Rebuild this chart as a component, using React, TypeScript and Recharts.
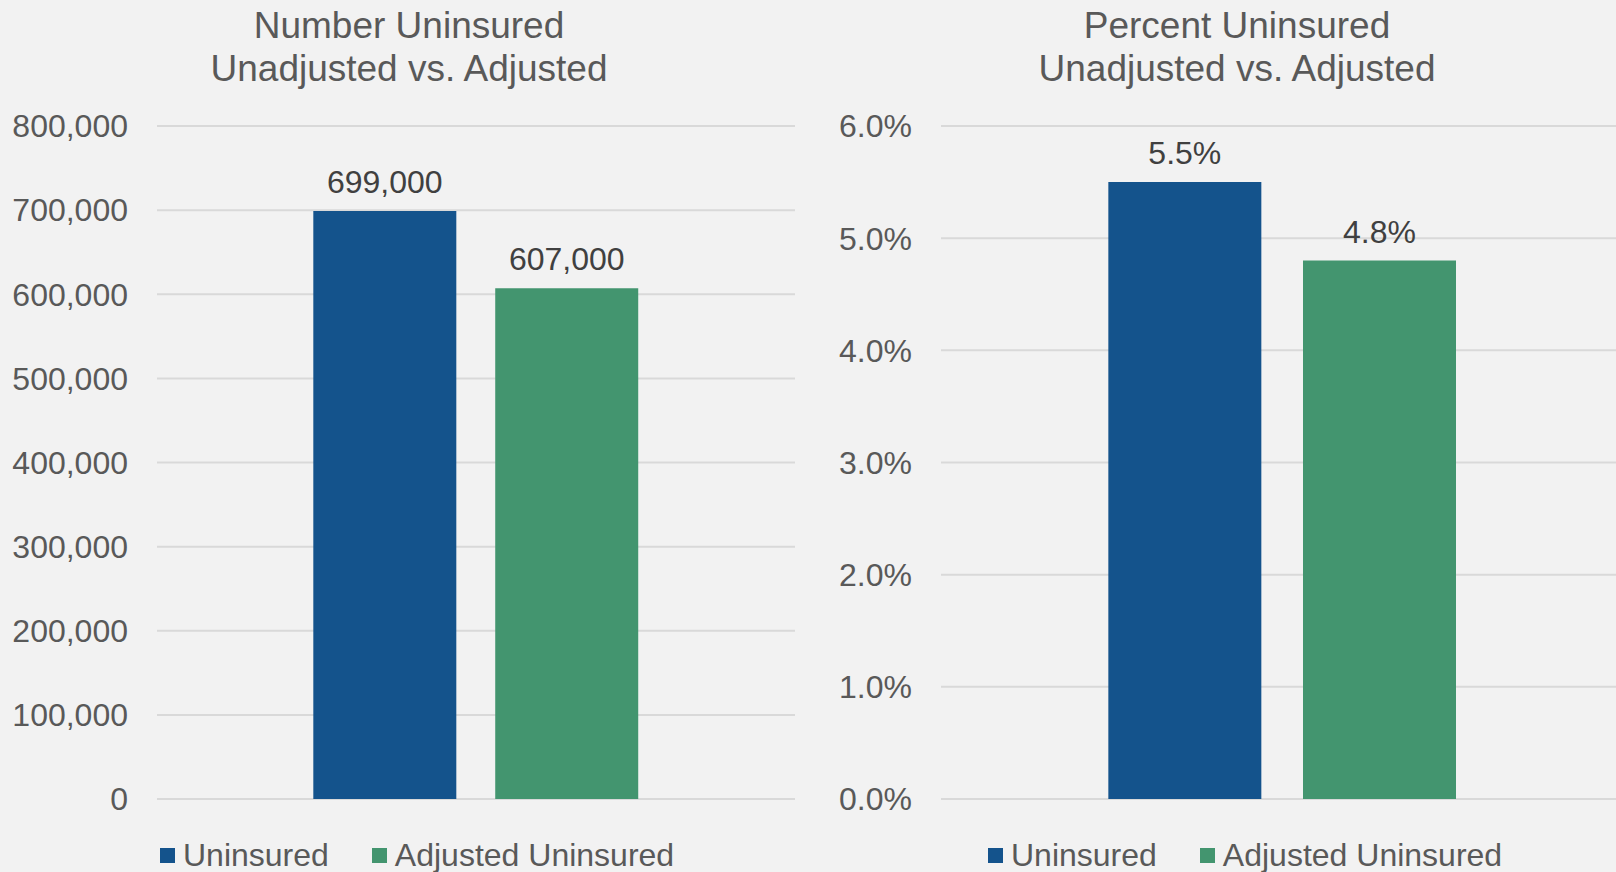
import React from "react";
import { BarChart, Bar, XAxis, YAxis, CartesianGrid, LabelList } from "recharts";

const categories = ["Total"];
const seriesNames = ["Uninsured", "Adjusted Uninsured"];
const seriesKeys = ["uninsured", "adjusted"];
const seriesColors = ["#14538C", "#43956F"];

const numberValues = [699000, 607000];
const percentValues = [5.5, 4.8];

const numberTicks = [0, 100000, 200000, 300000, 400000, 500000, 600000, 700000, 800000];
const percentTicks = [0, 1, 2, 3, 4, 5, 6];

const FONT = '"Liberation Sans", Arial, Helvetica, sans-serif';
const TEXT = "#595959";

function buildRows(values: number[]) {
  return categories.map((name) => {
    const row: Record<string, string | number> = { name };
    seriesKeys.forEach((k, i) => {
      row[k] = values[i];
    });
    return row;
  });
}

const fmtNumber = (v: number) => Number(v).toLocaleString("en-US");
const fmtPercent = (v: number) => `${Number(v).toFixed(1)}%`;

interface PanelProps {
  left: number;
  width: number;
  axisWidth: number;
  marginRight: number;
  titleCenter: number;
  title: string[];
  legendLeft: number;
  values: number[];
  ticks: number[];
  format: (v: number) => string;
}

function Panel({
  left,
  width,
  axisWidth,
  marginRight,
  titleCenter,
  title,
  legendLeft,
  values,
  ticks,
  format,
}: PanelProps) {
  const data = buildRows(values);
  return (
    <>
      <div
        style={{
          position: "absolute",
          left: titleCenter - 400,
          top: 4,
          width: 800,
          textAlign: "center",
          fontSize: 37,
          lineHeight: "43px",
          color: TEXT,
          fontFamily: FONT,
        }}
      >
        {title.map((t) => (
          <div key={t}>{t}</div>
        ))}
      </div>
      <div style={{ position: "absolute", left, top: 0 }}>
        <BarChart
          width={width}
          height={872}
          data={data}
          margin={{ top: 126, right: marginRight, bottom: 73, left: 0 }}
          barCategoryGap="24.5%"
          barGap="6.1%"
        >
          <CartesianGrid vertical={false} stroke="#D9D9D9" strokeWidth={2} />
          <XAxis dataKey="name" hide />
          <YAxis
            width={axisWidth}
            domain={[ticks[0], ticks[ticks.length - 1]]}
            ticks={ticks}
            interval={0}
            axisLine={false}
            tickLine={false}
            tickSize={0}
            tickMargin={29}
            tickFormatter={format}
            tick={{ fill: TEXT, fontSize: 32, fontFamily: FONT }}
          />
          {seriesKeys.map((k, i) => (
            <Bar key={k} dataKey={k} name={seriesNames[i]} fill={seriesColors[i]} isAnimationActive={false}>
              <LabelList
                dataKey={k}
                position="top"
                offset={18}
                formatter={(v: any) => format(v)}
                fill="#404040"
                fontSize={32}
                fontFamily={FONT}
              />
            </Bar>
          ))}
        </BarChart>
      </div>
      <div
        style={{
          position: "absolute",
          left: legendLeft,
          top: 837,
          display: "flex",
          alignItems: "center",
          gap: 43,
          fontFamily: FONT,
          fontSize: 32,
          color: TEXT,
          whiteSpace: "nowrap",
        }}
      >
        {seriesNames.map((n, i) => (
          <div key={n} style={{ display: "flex", alignItems: "center" }}>
            <span
              style={{
                display: "inline-block",
                width: 15,
                height: 15,
                background: seriesColors[i],
                marginRight: 8,
              }}
            />
            <span>{n}</span>
          </div>
        ))}
      </div>
    </>
  );
}

export default function App() {
  return (
    <div
      style={{
        position: "fixed",
        left: 0,
        top: 0,
        width: 1616,
        height: 872,
        overflow: "hidden",
        background: "#F2F2F2",
      }}
    >
      <Panel
        left={0}
        width={800}
        axisWidth={157}
        marginRight={5}
        titleCenter={409}
        title={["Number Uninsured", "Unadjusted vs. Adjusted"]}
        legendLeft={160}
        values={numberValues}
        ticks={numberTicks}
        format={fmtNumber}
      />
      <Panel
        left={808}
        width={820}
        axisWidth={133}
        marginRight={4}
        titleCenter={1237}
        title={["Percent Uninsured", "Unadjusted vs. Adjusted"]}
        legendLeft={988}
        values={percentValues}
        ticks={percentTicks}
        format={fmtPercent}
      />
    </div>
  );
}
